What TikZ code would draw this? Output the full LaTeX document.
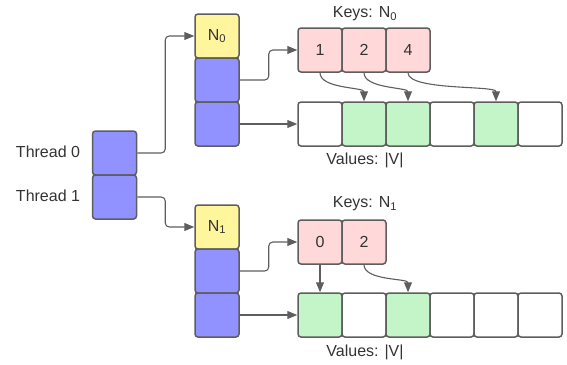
\documentclass[tikz,border=0pt]{standalone}
\usepackage{fontspec}
\setmainfont{Liberation Sans}
\usepackage{tikz}
\usetikzlibrary{arrows.meta}
\definecolor{edge}{HTML}{5E5E5E}
\definecolor{ink}{HTML}{333333}
\definecolor{slot}{HTML}{9191FF}
\definecolor{head}{HTML}{FFF59D}
\definecolor{key}{HTML}{FFD8DA}
\definecolor{hit}{HTML}{C3F5C8}

\begin{document}
\begin{tikzpicture}[x=1pt, y=-1pt, font=\fontsize{16}{19}\selectfont,
    cell/.style={draw=edge, line width=1.5pt, rounded corners=3pt,
      minimum width=44pt, minimum height=44pt, inner sep=0pt, text=ink},
    ptr/.style={draw=edge, line width=1.1pt, rounded corners=4pt,
      -{Triangle[length=10pt, width=8pt]}},
    lbl/.style={text=ink, inner sep=0pt}]
    \useasboundingbox (0, 0) rectangle (567, 364);

    % threads
    \node [cell, fill=slot] (t0) at (114.5, 153) {};
    \node [cell, fill=slot] (t1) at (114.5, 197) {};
    \node [lbl] (t0lbl) at (48, 152) {Thread 0};
    \node [lbl] (t1lbl) at (48, 196) {Thread 1};

    % per-thread headers
    \node [cell, fill=head] (n0) at (217, 36) {N\textsubscript{0}};
    \node [cell, fill=slot] (n0k) at (217, 80) {};
    \node [cell, fill=slot] (n0v) at (217, 124) {};
    \node [cell, fill=head] (n1) at (217, 227) {N\textsubscript{1}};
    \node [cell, fill=slot] (n1k) at (217, 271) {};
    \node [cell, fill=slot] (n1v) at (217, 315) {};

    % keys
    \node [cell, fill=key] (k0a) at (320, 50) {1};
    \node [cell, fill=key] (k0b) at (364, 50) {2};
    \node [cell, fill=key] (k0c) at (408, 50) {4};
    \node [cell, fill=key] (k1a) at (320, 242) {0};
    \node [cell, fill=key] (k1b) at (364, 242) {2};
    \node [lbl] (k0lbl) at (365, 14) {Keys: N\textsubscript{0}};
    \node [lbl] (k1lbl) at (365, 204) {Keys: N\textsubscript{1}};

    % values
    \foreach \i/\c in {0/white, 1/hit, 2/hit, 3/white, 4/hit, 5/white}
      \node [cell, fill=\c] (v0\i) at (320 + 44*\i, 124) {};
    \foreach \i/\c in {0/hit, 1/white, 2/hit, 3/white, 4/white, 5/white}
      \node [cell, fill=\c] (v1\i) at (320 + 44*\i, 315) {};
    \node [lbl] (v0lbl) at (365, 160) {Values: |V|};
    \node [lbl] (v1lbl) at (365, 352) {Values: |V|};

    % pointers
    \draw [ptr] (t0.east) -- ++(28, 0) |- (n0.west);
    \draw [ptr] (t1.east) -- ++(28, 0) |- (n1.west);
    \draw [ptr] (n0k.east) -- ++(29, 0) |- (k0a.west);
    \draw [ptr] (n0v.east) -- (v00.west);
    \draw [ptr] (n1k.east) -- ++(29, 0) |- (k1a.west);
    \draw [ptr] (n1v.east) -- (v10.west);

    % key -> value
    \draw [ptr] (k0a.south) .. controls +(0, 16) and +(0, -14) .. (v01.north);
    \draw [ptr] (k0b.south) .. controls +(0, 16) and +(0, -14) .. (v02.north);
    \draw [ptr] (k0c.south) .. controls +(0, 18) and +(0, -16) .. (v04.north);
    \draw [ptr] (k1a.south) -- (v10.north);
    \draw [ptr] (k1b.south) .. controls +(0, 16) and +(0, -14) .. (v12.north);
\end{tikzpicture}
\end{document}
